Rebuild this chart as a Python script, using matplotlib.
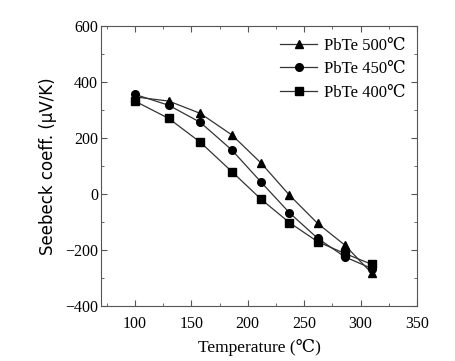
import matplotlib
matplotlib.use('Agg')
import matplotlib.pyplot as plt
from matplotlib.ticker import MultipleLocator

temp = [100, 130, 158, 186, 212, 237, 262, 286, 310]
s500 = [347, 332, 288, 211, 110, -4, -105, -182, -283]
s450 = [356, 317, 256, 157, 42, -67, -158, -224, -266]
s400 = [332, 270, 185, 80, -19, -102, -170, -212, -251]
labels = ['PbTe 500\u2103', 'PbTe 450\u2103', 'PbTe 400\u2103']

serif = ['Liberation Serif', 'DejaVu Serif']
plt.rcParams['font.family'] = serif

fig = plt.figure(figsize=(4.56, 3.61), dpi=100)
ax = fig.add_axes([0.2215, 0.152, 0.693, 0.776])

for ys, m, lab in zip([s500, s450, s400], ['^', 'o', 's'], labels):
    ax.plot(temp, ys, color='#333333', lw=0.9, marker=m, ms=5.5,
            mfc='black', mec='black', label=lab)

ax.set_xlim(70, 350)
ax.set_ylim(-400, 600)
ax.xaxis.set_major_locator(MultipleLocator(50))
ax.xaxis.set_minor_locator(MultipleLocator(25))
ax.yaxis.set_major_locator(MultipleLocator(200))
ax.yaxis.set_minor_locator(MultipleLocator(100))
ax.set_xticks([100, 150, 200, 250, 300, 350])
ax.tick_params(which='both', direction='in', top=True, right=True,
               labelsize=11.5, color='#555555')
ax.tick_params(axis='x', pad=7)
ax.tick_params(axis='y', pad=2)
ax.tick_params(which='major', length=4)
ax.tick_params(which='minor', length=2.5)
for sp in ax.spines.values():
    sp.set_color('#555555')

ax.set_xlabel('Temperature (\u2103)', fontsize=12.5, family=serif, labelpad=5)
ax.set_ylabel('Seebeck coeff. (\u03bcV/K)', fontsize=12,
              family=['DejaVu Sans'], labelpad=6)

ax.legend(loc='upper right', frameon=False, fontsize=12, handlelength=2.2,
          handletextpad=0.4, labelspacing=0.45, borderaxespad=0.4,
          borderpad=0.3)

fig.savefig('out.png', dpi=100)
